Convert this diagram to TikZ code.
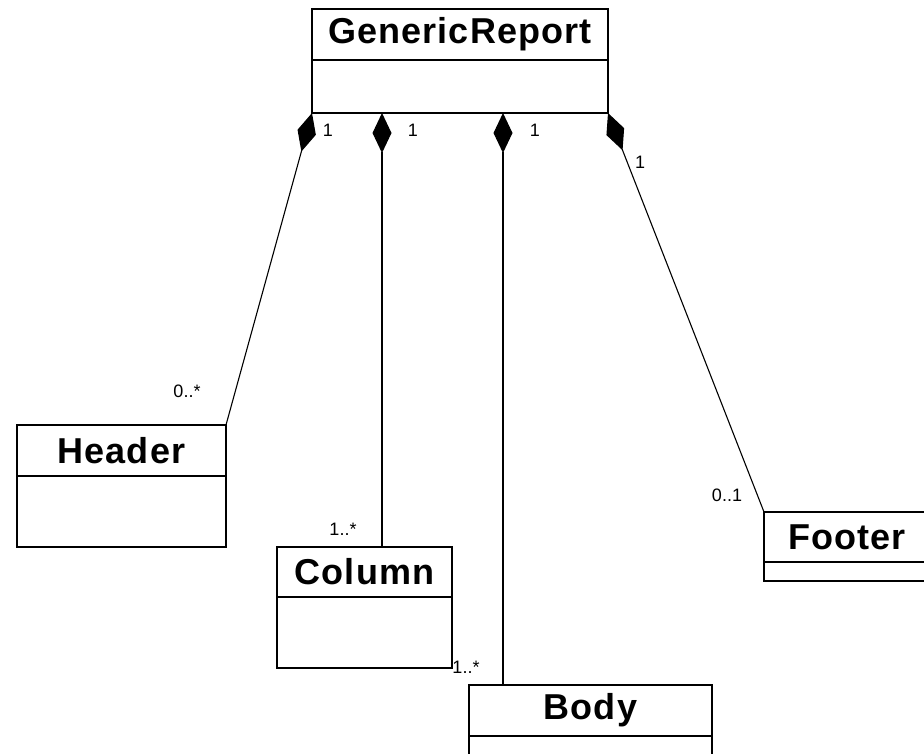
\documentclass[tikz,border=0pt]{standalone}
\usepackage{fontspec}
\setmainfont{Liberation Sans}
\usetikzlibrary{arrows.meta,positioning,calc}

\begin{document}
\begin{tikzpicture}[
			x=1pt, y=-1pt,
			classname/.style={rectangle, draw, line width=1.1pt, outer sep=0pt, inner sep=0pt, anchor=north west, font=\fontsize{36}{40}\selectfont\bfseries\addfontfeature{LetterSpace=3}},
			attrs/.style={rectangle, draw, line width=1.1pt, outer sep=0pt, inner sep=0pt},
			comp/.style={{Diamond[length=40pt,width=19pt]}-, line width=1.1pt},
			mult/.style={inner sep=0pt, font=\fontsize{18}{20}\selectfont}
			]
			\useasboundingbox (0,0) rectangle (924,754);
			
			% Classes
			\node[classname, minimum width=296pt, minimum height=51pt] (report) at (312,9) {GenericReport};
			\node[attrs, minimum width=296pt, minimum height=53pt, below=0pt of report] (report-attr) {};
			
			\node[classname, minimum width=209pt, minimum height=51pt] (header) at (17,425) {Header};
			\node[attrs, minimum width=209pt, minimum height=71pt, below=0pt of header] (header-attr) {};
			
			\node[classname, minimum width=175pt, minimum height=50pt] (column) at (277,547) {Column};
			\node[attrs, minimum width=175pt, minimum height=71pt, below=0pt of column] (column-attr) {};
			
			\node[classname, minimum width=243pt, minimum height=51pt] (body) at (469,685) {Body};
			\node[attrs, minimum width=243pt, minimum height=40pt, below=0pt of body] (body-attr) {};
			
			\node[classname, minimum width=166pt, minimum height=50pt] (footer) at (764,512) {Footer};
			\node[attrs, minimum width=166pt, minimum height=19pt, below=0pt of footer] (footer-attr) {};
			
			% Composition roots
			\coordinate (colroot) at ([xshift=70pt]report-attr.south west);
			\coordinate (bodyroot) at ([xshift=191pt]report-attr.south west);
			
			% Compositions
			\draw[comp] (report-attr.south west) -- (header.north east);
			\draw[comp] (colroot) -- (colroot |- column.north);
			\draw[comp] (bodyroot) -- (bodyroot |- body.north);
			\draw[comp] (report-attr.south east) -- (footer.north west);
			
			% Multiplicities
			\node[mult] (hm1) at (328,130) {1};
			\node[mult] (hm2) at (187,391) {0..*};
			\node[mult] (cm1) at (413,130) {1};
			\node[mult] (cm2) at (343,529) {1..*};
			\node[mult] (bm1) at (535,130) {1};
			\node[mult] (bm2) at (466,667) {1..*};
			\node[mult] (fm1) at (640,162) {1};
			\node[mult] (fm2) at (727,495) {0..1};
			
		\end{tikzpicture}
\end{document}
